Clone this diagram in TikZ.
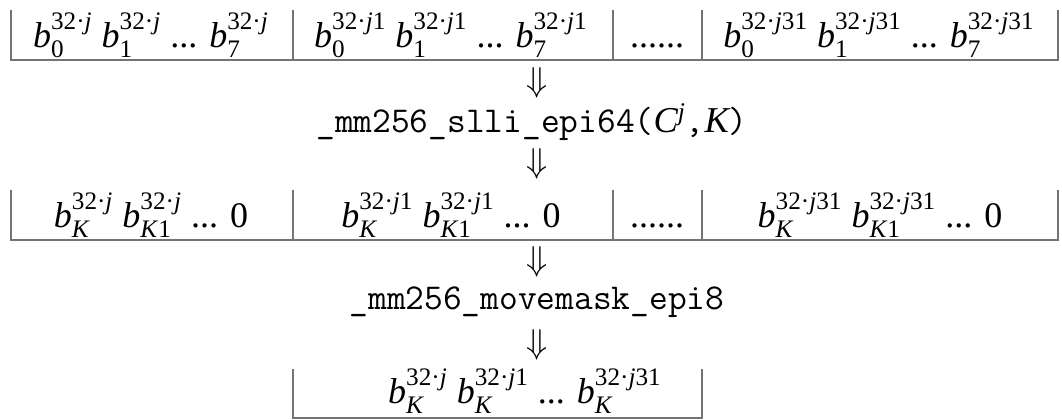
\documentclass[tikz,border=0pt]{standalone}
\usepackage{fontspec}
\usepackage{amsmath}
\setmainfont{Liberation Serif}
\newcommand\bsym[2]{\textit{b}$^{\text{#1}}_{\text{#2}}$}
\begin{document}
\begin{tikzpicture}[x=0.5pt,y=-0.5pt,
  bar/.style={draw=black!55,line width=1.1pt},
  cell/.style={anchor=base,inner sep=0pt,font=\fontsize{18}{22}\selectfont},
  code/.style={inner sep=0pt,font=\fontsize{18.2}{22}\ttfamily},
  darr/.style={inner sep=0pt,font=\fontsize{17}{21}\selectfont}]
\useasboundingbox (0,0) rectangle (1062,419);
% row 1
\draw[bar] (11,10) -- (11,60) -- (1058,60) -- (1058,10);
\draw[bar] (293,10) -- (293,60);
\draw[bar] (613,10) -- (613,60);
\draw[bar] (702,10) -- (702,60);
\node[cell] (r1a) at (151,47) {\bsym{32·\textit{j}}{0} \bsym{32·\textit{j}}{1} ... \bsym{32·\textit{j}}{7}};
\node[cell] (r1b) at (451,47) {\bsym{32·\textit{j}1}{0} \bsym{32·\textit{j}1}{1} ... \bsym{32·\textit{j}1}{7}};
\node[cell] (r1c) at (657,47) {......};
\node[cell] (r1d) at (879,47) {\bsym{32·\textit{j}31}{0} \bsym{32·\textit{j}31}{1} ... \bsym{32·\textit{j}31}{7}};
% arrow 1 and op 1
\node[darr] (a1) at (537,83) {$\Downarrow$};
\node[code] (op1) at (532,122) {\_mm256\_slli\_epi64({\rmfamily\itshape C$^{\text{\itshape j}}$},{\rmfamily\itshape K})};
\node[darr] (a2) at (537,164) {$\Downarrow$};
% row 2
\draw[bar] (11,190) -- (11,240) -- (1058,240) -- (1058,190);
\draw[bar] (293,190) -- (293,240);
\draw[bar] (613,190) -- (613,240);
\draw[bar] (702,190) -- (702,240);
\node[cell] (r2a) at (151,227) {\bsym{32·\textit{j}}{\textit{K}} \bsym{32·\textit{j}}{\textit{K}1} ... 0};
\node[cell] (r2b) at (451,227) {\bsym{32·\textit{j}1}{\textit{K}} \bsym{32·\textit{j}1}{\textit{K}1} ... 0};
\node[cell] (r2c) at (657,227) {......};
\node[cell] (r2d) at (880,227) {\bsym{32·\textit{j}31}{\textit{K}} \bsym{32·\textit{j}31}{\textit{K}1} ... 0};
% arrow 3, op 2, arrow 4
\node[darr] (a3) at (537,262) {$\Downarrow$};
\node[code] (op2) at (537,302) {\_mm256\_movemask\_epi8};
\node[darr] (a4) at (537,345) {$\Downarrow$};
% row 3
\draw[bar] (293,369) -- (293,418) -- (702,418) -- (702,369);
\node[cell] (r3) at (525,403) {\bsym{32·\textit{j}}{\textit{K}} \bsym{32·\textit{j}1}{\textit{K}} ... \bsym{32·\textit{j}31}{\textit{K}}};
\end{tikzpicture}
\end{document}
